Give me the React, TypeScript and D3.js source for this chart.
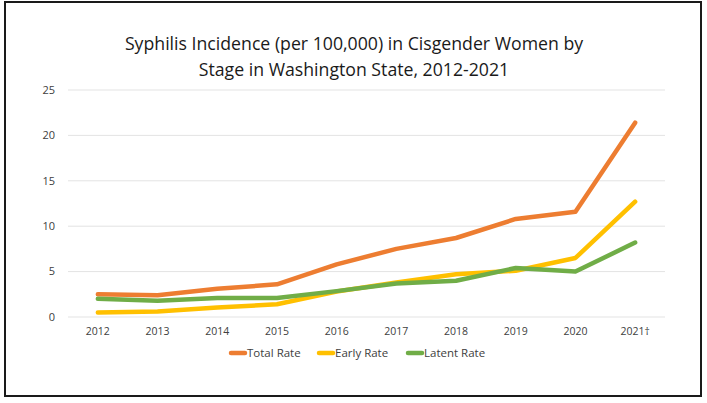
import { useEffect, useRef } from "react";
import * as d3 from "d3";

const years = ["2012", "2013", "2014", "2015", "2016", "2017", "2018", "2019", "2020", "2021†"];
const totalRate = [2.5, 2.4, 3.1, 3.6, 5.8, 7.5, 8.7, 10.8, 11.6, 21.4];
const earlyRate = [0.5, 0.6, 1.05, 1.4, 2.8, 3.8, 4.7, 5.1, 6.5, 12.7];
const latentRate = [2.0, 1.8, 2.1, 2.1, 2.85, 3.7, 4.0, 5.4, 5.0, 8.2];
const yTicks = [0, 5, 10, 15, 20, 25];
const seriesNames = ["Total Rate", "Early Rate", "Latent Rate"];
const seriesColors = ["#ED7D31", "#FFC000", "#70AD47"];

export default function App() {
  const svgRef = useRef<SVGSVGElement>(null);

  useEffect(() => {
    if (!svgRef.current) return;
    const svg = d3.select(svgRef.current);
    svg.selectAll("*").remove();

    const font = "'Open Sans', 'Noto Sans', sans-serif";

    // outer frame
    svg
      .append("rect")
      .attr("x", 5)
      .attr("y", 2)
      .attr("width", 696)
      .attr("height", 394)
      .attr("fill", "white")
      .attr("stroke", "#1a1a1a")
      .attr("stroke-width", 2);

    // title
    const title = svg
      .append("text")
      .attr("text-anchor", "middle")
      .attr("font-family", font)
      .attr("font-size", 17.7)
      .attr("fill", "#1a1a1a");
    title.append("tspan").attr("x", 354).attr("y", 50).text("Syphilis Incidence (per 100,000) in Cisgender Women by");
    title.append("tspan").attr("x", 354).attr("y", 76).text("Stage in Washington State, 2012-2021");

    const x = d3.scaleBand().domain(years).range([68, 665]);
    const y = d3.scaleLinear().domain([0, 25]).range([317, 90]);

    // gridlines
    svg
      .append("g")
      .selectAll("line")
      .data(yTicks)
      .enter()
      .append("line")
      .attr("x1", 68)
      .attr("x2", 665)
      .attr("y1", (d) => y(d))
      .attr("y2", (d) => y(d))
      .attr("stroke", "#e3e3e3")
      .attr("stroke-width", 1);

    // y tick labels
    svg
      .append("g")
      .selectAll("text")
      .data(yTicks)
      .enter()
      .append("text")
      .attr("x", 55)
      .attr("y", (d) => y(d))
      .attr("dy", "0.35em")
      .attr("text-anchor", "end")
      .attr("font-family", font)
      .attr("font-size", 11)
      .attr("fill", "#404040")
      .text((d) => d);

    // x tick labels
    svg
      .append("g")
      .selectAll("text")
      .data(years)
      .enter()
      .append("text")
      .attr("x", (d) => (x(d) ?? 0) + x.bandwidth() / 2)
      .attr("y", 335)
      .attr("text-anchor", "middle")
      .attr("font-family", font)
      .attr("font-size", 10.5)
      .attr("fill", "#404040")
      .text((d) => d);

    const allSeries = [totalRate, earlyRate, latentRate];
    const line = d3
      .line<number>()
      .x((_, i) => (x(years[i]) ?? 0) + x.bandwidth() / 2)
      .y((d) => y(d));

    allSeries.forEach((s, i) => {
      svg
        .append("path")
        .datum(s)
        .attr("d", line)
        .attr("fill", "none")
        .attr("stroke", seriesColors[i])
        .attr("stroke-width", 4.5)
        .attr("stroke-linejoin", "round")
        .attr("stroke-linecap", "round");
    });

    // legend
    const legendX = [230, 318, 407];
    const items = svg
      .append("g")
      .selectAll("g")
      .data(seriesNames)
      .enter()
      .append("g")
      .attr("transform", (_, i) => `translate(${legendX[i]},353)`);
    items
      .append("line")
      .attr("x1", 1)
      .attr("x2", 15)
      .attr("y1", 0)
      .attr("y2", 0)
      .attr("stroke", (_, i) => seriesColors[i])
      .attr("stroke-width", 4.5)
      .attr("stroke-linecap", "round");
    items
      .append("text")
      .attr("x", 17)
      .attr("y", 0)
      .attr("dy", "0.35em")
      .attr("font-family", font)
      .attr("font-size", 11.5)
      .attr("fill", "#404040")
      .text((d) => d);
  }, []);

  return (
    <div style={{ position: "absolute", left: 0, top: 0 }}>
      <svg ref={svgRef} width={707} height={403} style={{ display: "block" }}></svg>
    </div>
  );
}
